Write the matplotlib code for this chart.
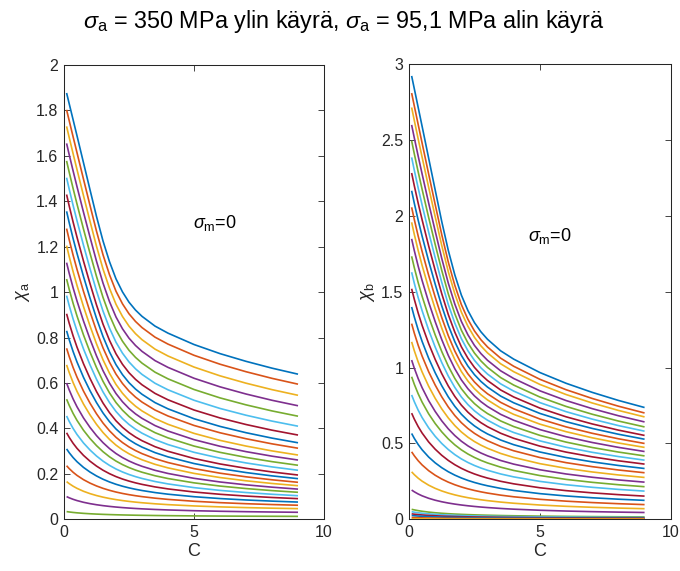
import matplotlib
matplotlib.use("Agg")
import matplotlib.pyplot as plt
from matplotlib.ticker import FuncFormatter, MultipleLocator
import numpy as np

plt.rcParams['font.family'] = ['Liberation Sans', 'DejaVu Sans']
plt.rcParams['mathtext.fontset'] = 'custom'
plt.rcParams['mathtext.rm'] = 'Liberation Sans'
plt.rcParams['mathtext.it'] = 'Liberation Sans:italic'

# Sampled C values of every curve
C_VALUES = [0.1, 0.2, 0.35, 0.5, 0.75, 1.0, 1.25, 1.5, 1.75, 2.0, 2.25,
            2.5, 2.75, 3.0, 3.5, 4.0, 5.0, 6.0, 7.0, 8.0, 9.0]
# Fall-off between the first (C = 0.1) and last (C = 9) value, 1 -> 0:
# the highest curve keeps a nearly straight start and bends late,
# the lowest curves bend right away.
SHAPE_HIGH = [1.0, 0.962, 0.905, 0.848, 0.752, 0.656, 0.561, 0.474, 0.400,
              0.339, 0.2925, 0.256, 0.228, 0.2057, 0.171, 0.1459, 0.1055,
              0.0731, 0.0457, 0.0214, 0.0]
SHAPE_LOW = [1.0, 0.9228, 0.8246, 0.7428, 0.6330, 0.5471, 0.4781, 0.4213,
             0.3739, 0.3337, 0.2991, 0.2691, 0.2427, 0.2195, 0.1802, 0.1484,
             0.0999, 0.0646, 0.0379, 0.0169, 0.0]

# chi_a, sigma_m = 0: one curve per sigma_a (350 MPa first ... 95.1 MPa last)
CHI_A_START = [1.877, 1.803, 1.730, 1.655, 1.578, 1.504, 1.430, 1.356, 1.280,
               1.205, 1.130, 1.058, 0.985, 0.905, 0.830, 0.753, 0.680, 0.600,
               0.529, 0.455, 0.381, 0.310, 0.236, 0.166, 0.100, 0.034]
CHI_A_END = [0.639, 0.595, 0.546, 0.500, 0.454, 0.410, 0.371, 0.337, 0.313,
             0.283, 0.261, 0.238, 0.216, 0.195, 0.179, 0.163, 0.148, 0.133,
             0.119, 0.104, 0.091, 0.076, 0.062, 0.047, 0.031, 0.013]

# chi_b, sigma_m = 0
CHI_B_START = [2.923, 2.810, 2.715, 2.600, 2.495, 2.386, 2.283, 2.166, 2.057,
               1.958, 1.849, 1.734, 1.629, 1.520, 1.400, 1.290, 1.170, 1.050,
               0.940, 0.820, 0.700, 0.566, 0.445, 0.313, 0.193,
               0.066, 0.050, 0.036, 0.025, 0.012, 0.004]
CHI_B_END = [0.737, 0.701, 0.675, 0.642, 0.609, 0.581, 0.553, 0.528, 0.500,
             0.474, 0.447, 0.418, 0.390, 0.364, 0.335, 0.307, 0.276, 0.245,
             0.215, 0.186, 0.153, 0.125, 0.097, 0.070, 0.045,
             0.016, 0.012, 0.008, 0.005, 0.003, 0.001]

COLORS = ['#0072BD', '#D95319', '#EDB120', '#7E2F8E', '#77AC30', '#4DBEEE', '#A2142F']
AX_COLOR = '#262626'

c = np.array(C_VALUES)
shape_high = np.array(SHAPE_HIGH)
shape_low = np.array(SHAPE_LOW)

fig = plt.figure(figsize=(6.8, 5.71), dpi=100)
ax_a = fig.add_axes([0.0941, 0.0905, 0.3824, 0.7956])
ax_b = fig.add_axes([0.6015, 0.0905, 0.3849, 0.7970])


def draw_family(ax, starts, ends, n_main):
    for i, (s, e) in enumerate(zip(starts, ends)):
        w = min(i / (n_main - 1), 1.0)
        shape = (1 - w) * shape_high + w * shape_low
        y = e + (s - e) * shape
        ax.plot(c, y, color=COLORS[i % len(COLORS)], lw=1.2, solid_capstyle='butt')


def style(ax, ymax, ystep, ylabel):
    ax.set_xlim(0, 10)
    ax.set_ylim(0, ymax)
    ax.xaxis.set_major_locator(MultipleLocator(5))
    ax.yaxis.set_major_locator(MultipleLocator(ystep))
    fmt = FuncFormatter(lambda v, p: f'{v:g}')
    ax.xaxis.set_major_formatter(fmt)
    ax.yaxis.set_major_formatter(fmt)
    ax.tick_params(direction='in', top=True, right=True, length=4, width=0.6,
                   colors=AX_COLOR, labelsize=11.5, pad=4)
    for sp in ax.spines.values():
        sp.set_color(AX_COLOR)
        sp.set_linewidth(0.75)
    ax.set_xlabel('C', fontsize=13, color=AX_COLOR, labelpad=2)
    ax.set_ylabel(ylabel, fontsize=13, color=AX_COLOR, labelpad=3)


draw_family(ax_a, CHI_A_START, CHI_A_END, 26)
draw_family(ax_b, CHI_B_START, CHI_B_END, 25)
style(ax_a, 2, 0.2, r'$\chi_\mathrm{a}$')
style(ax_b, 3, 0.5, r'$\chi_\mathrm{b}$')

ax_a.text(4.95, 1.305, r'$\sigma_\mathrm{m}$=0', fontsize=13, va='center', ha='left')
ax_b.text(4.55, 1.87, r'$\sigma_\mathrm{m}$=0', fontsize=13, va='center', ha='left')

fig.text(0.505, 0.962,
         r'$\sigma_\mathrm{a}$ = 350 MPa ylin käyrä, $\sigma_\mathrm{a}$ = 95,1 MPa alin käyrä',
         ha='center', va='center', fontsize=16.8, color='black')

fig.savefig('out.png', dpi=100)
